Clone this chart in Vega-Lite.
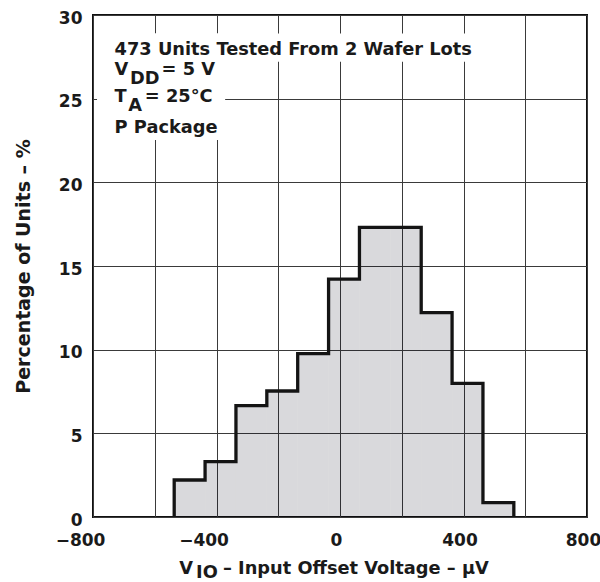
{
  "$schema": "https://vega.github.io/schema/vega-lite/v6.json",
  "width": 494,
  "height": 502,
  "autosize": {"type": "none"},
  "padding": {"left": 93, "top": 15, "right": 13, "bottom": 65},
  "background": "white",
  "config": {
    "font": "DejaVu Sans",
    "view": {"stroke": "#111111", "strokeWidth": 2},
    "axis": {
      "labelFont": "DejaVu Sans",
      "labelFontWeight": "bold",
      "labelFontSize": 17,
      "labelColor": "#1a1a1a",
      "titleFont": "DejaVu Sans",
      "titleFontWeight": "bold",
      "titleColor": "#1a1a1a",
      "grid": true,
      "gridColor": "#3a3a3a",
      "gridWidth": 1,
      "gridOpacity": 1,
      "ticks": false,
      "domain": false,
      "labelOverlap": false
    }
  },
  "encoding": {
    "x": {
      "field": "x",
      "type": "quantitative",
      "scale": {"domain": [-800, 800], "nice": false, "zero": false},
      "axis": {
        "values": [-800, -600, -400, -200, 0, 200, 400, 600, 800],
        "labelExpr": "datum.value % 400 === 0 ? datum.label : ''",
        "labelFlush": false,
        "labelPadding": 15,
        "labelOffset": {"condition": {"test": "datum.value < 0", "value": -13}, "value": -4},
        "title": null
      }
    },
    "y": {
      "field": "y",
      "type": "quantitative",
      "scale": {"domain": [0, 30], "nice": false},
      "axis": {
        "values": [0, 5, 10, 15, 20, 25, 30],
        "labelPadding": 11,
        "labelOffset": 3,
        "title": "Percentage of Units – %",
        "titleFontSize": 19,
        "titlePadding": 25
      }
    }
  },
  "layer": [
    {
      "data": {
        "values": [
          {"x": -537, "x2": -437, "y": 2.21},
          {"x": -437, "x2": -337, "y": 3.31},
          {"x": -337, "x2": -237, "y": 6.65},
          {"x": -237, "x2": -137, "y": 7.53},
          {"x": -137, "x2": -37, "y": 9.76},
          {"x": -37, "x2": 63, "y": 14.22},
          {"x": 63, "x2": 163, "y": 17.31},
          {"x": 163, "x2": 263, "y": 17.31},
          {"x": 263, "x2": 363, "y": 12.21},
          {"x": 363, "x2": 463, "y": 7.99},
          {"x": 463, "x2": 563, "y": 0.86}
        ]
      },
      "mark": {"type": "rect", "fill": "#000014", "fillOpacity": 0.15, "strokeWidth": 0},
      "encoding": {
        "x2": {"field": "x2"},
        "y2": {"datum": 0}
      }
    },
    {
      "data": {
        "values": [
          {"x": -787, "x2": 450, "y": 27.21, "y2": 28.9},
          {"x": -787, "x2": -372, "y": 22.53, "y2": 28.9}
        ]
      },
      "mark": {"type": "rect", "fill": "white", "strokeWidth": 0},
      "encoding": {
        "x2": {"field": "x2"},
        "y2": {"field": "y2"}
      }
    },
    {
      "data": {
        "values": [
          {"x": -537, "y": 0},
          {"x": -537, "y": 2.21},
          {"x": -437, "y": 3.31},
          {"x": -337, "y": 6.65},
          {"x": -237, "y": 7.53},
          {"x": -137, "y": 9.76},
          {"x": -37, "y": 14.22},
          {"x": 63, "y": 17.31},
          {"x": 263, "y": 12.21},
          {"x": 363, "y": 7.99},
          {"x": 463, "y": 0.86},
          {"x": 563, "y": 0}
        ]
      },
      "mark": {"type": "line", "interpolate": "step-after", "stroke": "#141414", "strokeWidth": 3.3, "strokeJoin": "miter"},
      "encoding": {}
    },
    {
      "data": {
        "values": [
          {"x": -730, "y": 27.59, "t": "473 Units Tested From 2 Wafer Lots"},
          {"x": -730, "y": 26.43, "t": "V"},
          {"x": -680, "y": 25.88, "t": "DD"},
          {"x": -578, "y": 26.43, "t": "= 5 V"},
          {"x": -730, "y": 24.78, "t": "T"},
          {"x": -686, "y": 24.28, "t": "A"},
          {"x": -632, "y": 24.78, "t": "= 25°C"},
          {"x": -730, "y": 22.97, "t": "P Package"},
          {"x": -521, "y": -3.41, "t": "V"},
          {"x": -466, "y": -3.65, "t": "IO"},
          {"x": -379, "y": -3.41, "t": "– Input Offset Voltage – μV"}
        ]
      },
      "mark": {"type": "text", "align": "left", "baseline": "alphabetic", "font": "DejaVu Sans", "fontWeight": "bold", "fontSize": 17.8, "fill": "#1a1a1a"},
      "encoding": {
        "text": {"field": "t"}
      }
    }
  ]
}
